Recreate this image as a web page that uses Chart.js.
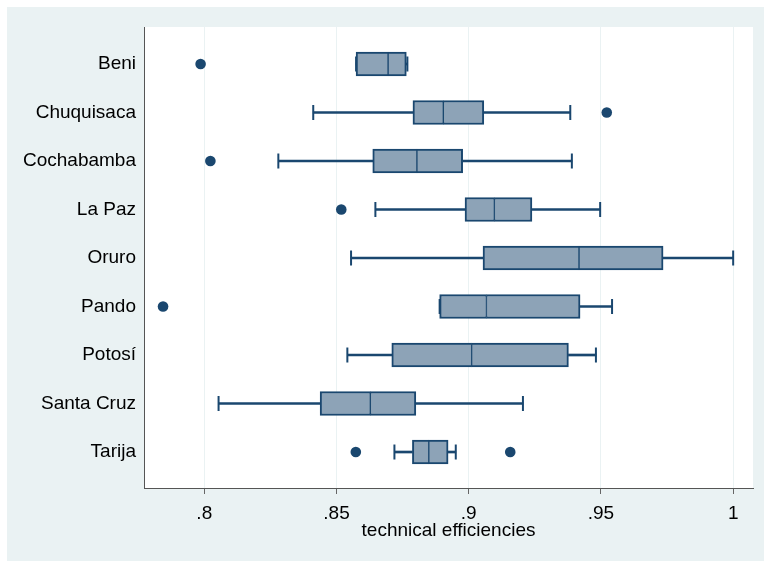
<!DOCTYPE html>
<html>
<head>
<meta charset="utf-8">
<script src="https://cdn.jsdelivr.net/npm/chart.js@4"></script>
<style>
  body { margin: 0; background: #fff; }
</style>
</head>
<body>
<canvas id="c" width="764" height="561"></canvas>
<script>
// boxplot of technical efficiencies by department
const categories = ["Beni", "Chuquisaca", "Cochabamba", "La Paz", "Oruro", "Pando", "Potosí", "Santa Cruz", "Tarija"];
const lowerAdj = [0.8574, 0.8412, 0.8280, 0.8647, 0.8555, 0.8890, 0.8541, 0.8054, 0.8719];
const q1 = [0.8574, 0.8789, 0.8637, 0.8986, 0.9054, 0.8890, 0.8709, 0.8438, 0.8787];
const medians = [0.8695, 0.8904, 0.8804, 0.9097, 0.9417, 0.9067, 0.9011, 0.8628, 0.8849];
const q3 = [0.8764, 0.9057, 0.8977, 0.9239, 0.9735, 0.9421, 0.9377, 0.8800, 0.8922];
const upperAdj = [0.8768, 0.9384, 0.9390, 0.9497, 1.0000, 0.9542, 0.9481, 0.9205, 0.8951];
const outlierCats = [0, 1, 2, 3, 5, 8, 8];
const outlierVals = [0.7986, 0.9522, 0.8023, 0.8518, 0.7844, 0.8573, 0.9157];
const xTicks = [0.8, 0.85, 0.9, 0.95, 1];
const xTickLabels = [".8", ".85", ".9", ".95", "1"];

const navy = "#1a476f";
const boxFill = "#8da3b7";
const font = { family: "'Liberation Sans', Arial, sans-serif", size: 19 };

const bgPlugin = {
  id: "bg",
  beforeDraw(chart) {
    const { ctx, chartArea: a } = chart;
    ctx.save();
    ctx.fillStyle = "#fff";
    ctx.fillRect(0, 0, chart.width, chart.height);
    ctx.fillStyle = "#eaf2f3";
    ctx.fillRect(7, 7, chart.width - 7, chart.height - 7);
    ctx.fillStyle = "#fff";
    ctx.fillRect(a.left, a.top, a.right - a.left, a.bottom - a.top);
    ctx.restore();
  }
};

const span = (a, b) => categories.map((c, i) => ({ y: i, x: [a[i], b[i]] }));

const whiskerStyle = {
  type: "bar",
  grouped: false,
  barThickness: 2,
  backgroundColor: navy,
  borderWidth: 0
};
const boxStyle = {
  type: "bar",
  grouped: false,
  barThickness: 24,
  backgroundColor: boxFill,
  borderColor: navy,
  borderSkipped: false
};

new Chart(document.getElementById("c"), {
  type: "bar",
  data: {
    datasets: [
      Object.assign({ label: "lower whisker", data: span(lowerAdj, q1) }, whiskerStyle),
      Object.assign({ label: "upper whisker", data: span(q3, upperAdj) }, whiskerStyle),
      Object.assign({ label: "q1-median", data: span(q1, medians),
        borderWidth: { left: 2, top: 2, bottom: 2, right: 1 } }, boxStyle),
      Object.assign({ label: "median-q3", data: span(medians, q3),
        borderWidth: { left: 1, top: 2, bottom: 2, right: 2 } }, boxStyle),
      {
        type: "scatter",
        label: "caps",
        data: categories.flatMap((c, i) => [{ x: lowerAdj[i], y: i }, { x: upperAdj[i], y: i }]),
        pointStyle: "line",
        rotation: 90,
        radius: 7.5,
        borderWidth: 2,
        borderColor: navy
      },
      {
        type: "scatter",
        label: "outliers",
        data: outlierVals.map((v, i) => ({ x: v, y: outlierCats[i] })),
        radius: 5.3,
        borderWidth: 0,
        backgroundColor: navy
      }
    ]
  },
  options: {
    indexAxis: "y",
    responsive: false,
    animation: false,
    events: [],
    layout: { padding: { top: 27, right: 11, left: 0, bottom: 0 } },
    plugins: { legend: { display: false }, tooltip: { enabled: false } },
    scales: {
      x: {
        type: "linear",
        min: 0.7772,
        max: 1.0075,
        beginAtZero: false,
        afterBuildTicks: (s) => { s.ticks = xTicks.map(v => ({ value: v })); },
        afterFit: (s) => { s.height = 73; },
        ticks: {
          autoSkip: false,
          maxRotation: 0,
          padding: 8,
          color: "#000",
          font: font,
          callback: (v) => xTickLabels[xTicks.indexOf(v)]
        },
        grid: { color: "#eaf2f3", lineWidth: 1, tickColor: "#666", tickLength: 6 },
        border: { display: true, color: "#555", width: 1 },
        title: {
          display: true,
          text: "technical efficiencies",
          color: "#000",
          font: font,
          padding: { top: 0, bottom: 19 }
        }
      },
      y: {
        type: "linear",
        reverse: true,
        min: -0.763,
        max: 8.742,
        offset: false,
        afterBuildTicks: (s) => { s.ticks = categories.map((c, i) => ({ value: i })); },
        afterFit: (s) => { s.width = 144; },
        ticks: {
          autoSkip: false,
          padding: 8,
          color: "#000",
          font: font,
          callback: (v) => categories[v]
        },
        grid: { display: false, drawTicks: false, offset: false },
        border: { display: true, color: "#555", width: 1 }
      }
    }
  },
  plugins: [bgPlugin]
});
</script>
</body>
</html>
